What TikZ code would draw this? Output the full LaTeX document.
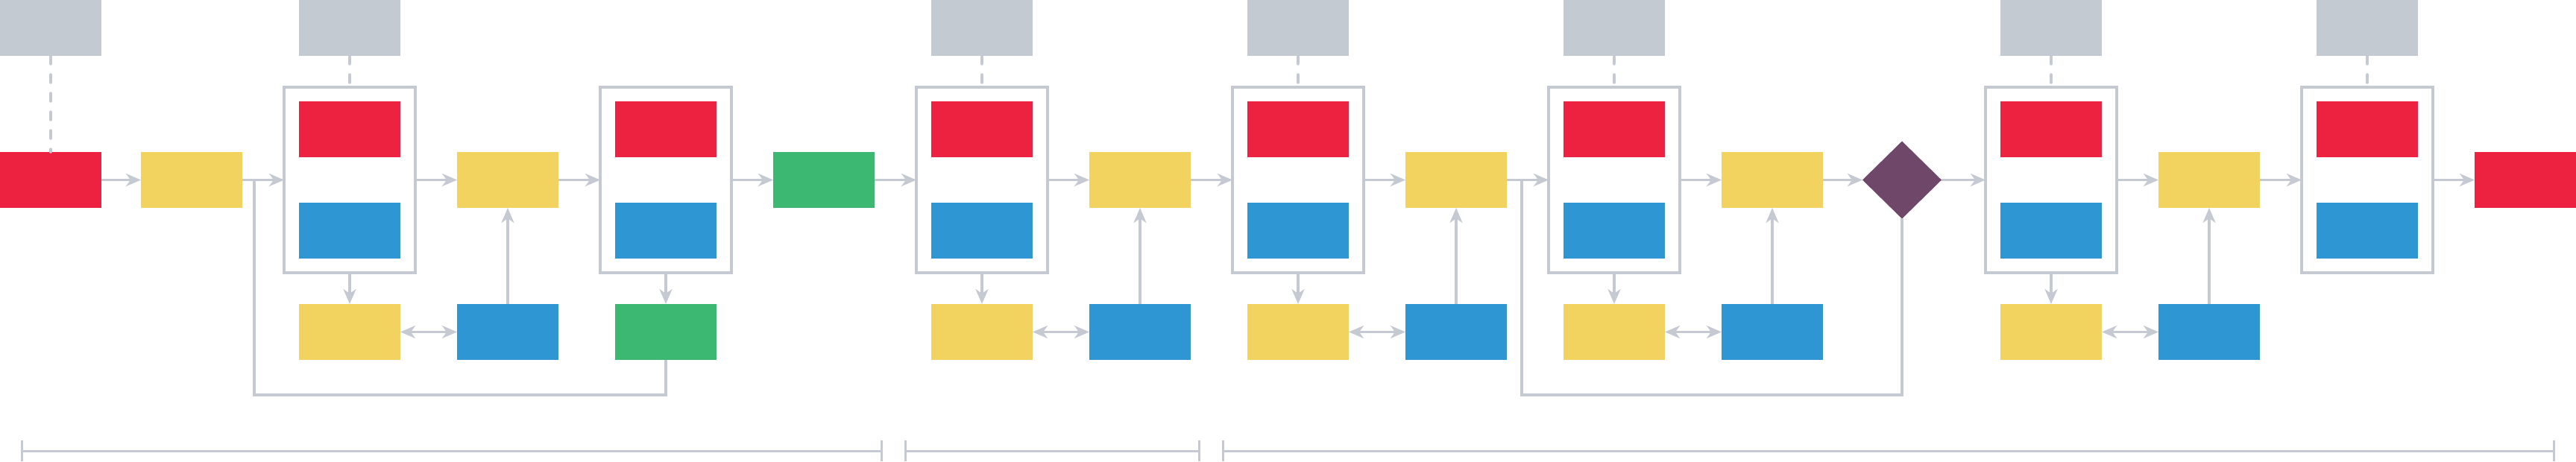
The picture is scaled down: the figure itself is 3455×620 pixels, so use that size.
\documentclass[tikz,border=0pt]{standalone}
\usetikzlibrary{arrows.meta,shapes.geometric}
\definecolor{cred}{HTML}{ED2240}
\definecolor{cyel}{HTML}{F3D360}
\definecolor{cblue}{HTML}{2E96D3}
\definecolor{cgreen}{HTML}{3DB872}
\definecolor{cgray}{HTML}{C4CAD2}
\definecolor{cpurp}{HTML}{6E4769}
\definecolor{lc}{HTML}{C5CAD2}
\tikzset{
  blk/.style={rectangle, minimum width=136pt, minimum height=75pt, inner sep=0pt, outer sep=0pt},
  redb/.style={blk, fill=cred},
  yelb/.style={blk, fill=cyel},
  blueb/.style={blk, fill=cblue},
  greenb/.style={blk, fill=cgreen},
  grayb/.style={blk, fill=cgray},
  cont/.style={rectangle, draw=lc, line width=4pt, minimum width=176pt, minimum height=249pt, inner sep=0pt, outer sep=0pt},
  dec/.style={diamond, fill=cpurp, minimum width=106pt, minimum height=104pt, inner sep=0pt, outer sep=0pt},
  tipx/.tip={Stealth[length=20pt,width=17pt,inset=6pt]},
  conn/.style={draw=lc, line width=3.5pt, -tipx},
  dconn/.style={draw=lc, line width=3.5pt, tipx-tipx},
  fb/.style={draw=lc, line width=3.5pt},
  dsh/.style={draw=lc, line width=3.5pt, line cap=round, dash pattern=on 11pt off 14pt},
  ruler/.style={draw=lc, line width=3pt, {Bar[width=28pt]}-{Bar[width=28pt]}}
}
\begin{document}
\begin{tikzpicture}[x=1pt,y=-1pt]
\useasboundingbox (0,0) rectangle (3455,620);
% main row
\node[redb] (r0) at (68,241.5) {};
\node[grayb] (g0) at (68,37.5) {};
\node[yelb] (y1) at (257,241.5) {};
% container template positions
\foreach \n/\x in {c1/469,c2/893,c3/1317,c4/1741,c5/2165,c6/2751,c7/3175}{
  \node[cont] (\n) at (\x,241.5) {};
  \node[redb] (\n r) at (\x,173.5) {};
  \node[blueb] (\n b) at (\x,309.5) {};
}
\foreach \n/\x in {c1/469,c3/1317,c4/1741,c5/2165,c6/2751,c7/3175}{
  \node[grayb] (\n g) at (\x,37.5) {};
}
\node[yelb] (y2) at (681,241.5) {};
\node[greenb] (gm) at (1105,241.5) {};
\node[yelb] (y3) at (1529,241.5) {};
\node[yelb] (y4) at (1953,241.5) {};
\node[yelb] (y5) at (2377,241.5) {};
\node[dec] (d) at (2551,241.5) {};
\node[yelb] (y6) at (2963,241.5) {};
\node[redb] (rend) at (3387,241.5) {};
% bottom row
\node[yelb] (c1y) at (469,445.5) {};
\node[blueb] (y2b) at (681,445.5) {};
\node[greenb] (c2g) at (893,445.5) {};
\node[yelb] (c3y) at (1317,445.5) {};
\node[blueb] (y3b) at (1529,445.5) {};
\node[yelb] (c4y) at (1741,445.5) {};
\node[blueb] (y4b) at (1953,445.5) {};
\node[yelb] (c5y) at (2165,445.5) {};
\node[blueb] (y5b) at (2377,445.5) {};
\node[yelb] (c6y) at (2751,445.5) {};
\node[blueb] (y6b) at (2963,445.5) {};
% main flow
\draw[conn] (r0) -- (y1);
\draw[conn] (y1) -- (c1);
\draw[conn] (c1) -- (y2);
\draw[conn] (y2) -- (c2);
\draw[conn] (c2) -- (gm);
\draw[conn] (gm) -- (c3);
\draw[conn] (c3) -- (y3);
\draw[conn] (y3) -- (c4);
\draw[conn] (c4) -- (y4);
\draw[conn] (y4) -- (c5);
\draw[conn] (c5) -- (y5);
\draw[conn] (y5) -- (d);
\draw[conn] (d) -- (c6);
\draw[conn] (c6) -- (y6);
\draw[conn] (y6) -- (c7);
\draw[conn] (c7) -- (rend);
% down arrows
\draw[conn] (c1) -- (c1y);
\draw[conn] (c2) -- (c2g);
\draw[conn] (c3) -- (c3y);
\draw[conn] (c4) -- (c4y);
\draw[conn] (c5) -- (c5y);
\draw[conn] (c6) -- (c6y);
% double arrows
\draw[dconn] (c1y) -- (y2b);
\draw[dconn] (c3y) -- (y3b);
\draw[dconn] (c4y) -- (y4b);
\draw[dconn] (c5y) -- (y5b);
\draw[dconn] (c6y) -- (y6b);
% up arrows
\draw[conn] (y2b) -- (y2);
\draw[conn] (y3b) -- (y3);
\draw[conn] (y4b) -- (y4);
\draw[conn] (y5b) -- (y5);
\draw[conn] (y6b) -- (y6);
% dashed links
\draw[dsh] (g0) -- (r0);
\foreach \n in {c1,c3,c4,c5,c6,c7}{
  \draw[dsh] (\n g) -- (\n);
}
% feedback loops
\coordinate (fa1) at (341,241.5);
\coordinate (fa2) at (341,530);
\draw[fb] (fa1) -- (fa2) -| (c2g.south);
\coordinate (fc1) at (2041,241.5);
\coordinate (fc2) at (2041,530);
\draw[fb] (fc1) -- (fc2) -| (d.south);
% rulers
\coordinate (ra1) at (28,605);
\coordinate (ra2) at (1184,605);
\coordinate (rb1) at (1213,605);
\coordinate (rb2) at (1610,605);
\coordinate (rc1) at (1639,605);
\coordinate (rc2) at (3427,605);
\draw[ruler] (ra1) -- (ra2);
\draw[ruler] (rb1) -- (rb2);
\draw[ruler] (rc1) -- (rc2);
\end{tikzpicture}
\end{document}
